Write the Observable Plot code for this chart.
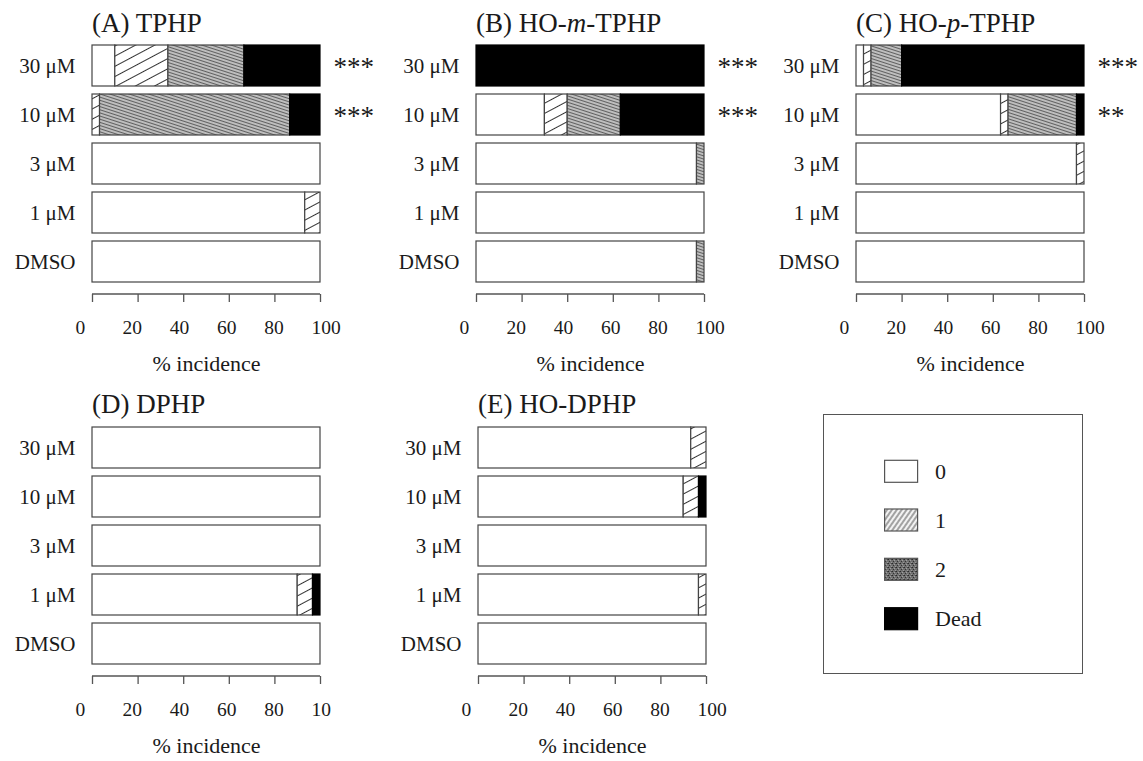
<!DOCTYPE html>
<html>
<head>
<meta charset="utf-8">
<script src="https://cdn.jsdelivr.net/npm/d3@7"></script>
<script src="https://cdn.jsdelivr.net/npm/@observablehq/plot@0.6"></script>
<style>
  body { margin: 0; background: #fff; }
  #root { position: relative; width: 1143px; height: 761px; font-family: "Liberation Serif", "Times New Roman", serif; color: #1a1a1a; }
  .panel { position: absolute; }
  .ptitle { position: absolute; font-size: 27px; line-height: 27px; white-space: nowrap; }
  #legend { position: absolute; left: 822.7px; top: 414px; width: 258px; height: 258px; border: 1.5px solid #555; }
</style>
</head>
<body>
<svg width="0" height="0" style="position:absolute">
  <defs>
    <pattern id="h1" patternUnits="userSpaceOnUse" width="9" height="9" patternTransform="rotate(-28)">
      <rect width="9" height="9" fill="white"/>
      <line x1="0" y1="4.5" x2="9" y2="4.5" stroke="#333" stroke-width="1"/>
    </pattern>
    <pattern id="h2" patternUnits="userSpaceOnUse" width="6" height="3" patternTransform="rotate(18)">
      <rect width="6" height="3" fill="#c8c8c8"/>
      <line x1="0" y1="1.5" x2="6" y2="1.5" stroke="#606060" stroke-width="1.2"/>
    </pattern>
    <pattern id="l1" patternUnits="userSpaceOnUse" width="4" height="4" patternTransform="rotate(-55)">
      <rect width="4" height="4" fill="#f2f2f2"/>
      <line x1="0" y1="2" x2="4" y2="2" stroke="#777" stroke-width="1.3"/>
    </pattern>
    <pattern id="l2" patternUnits="userSpaceOnUse" width="4" height="4">
      <rect width="4" height="4" fill="#707070"/>
      <rect x="0" y="0" width="1" height="1" fill="#2a2a2a"/>
      <rect x="2" y="1" width="1" height="1" fill="#a0a0a0"/>
      <rect x="1" y="2" width="1" height="1" fill="#333"/>
      <rect x="3" y="3" width="1" height="1" fill="#999"/>
      <rect x="3" y="0" width="1" height="1" fill="#444"/>
    </pattern>
  </defs>
</svg>
<div id="root"></div>
<script>
// ---------- data ----------
const doses = ["30 μM", "10 μM", "3 μM", "1 μM", "DMSO"];
const scores = ["0", "1", "2", "Dead"];
const scoreFills = ["white", "url(#h1)", "url(#h2)", "black"];
const legendFills = ["white", "url(#l1)", "url(#l2)", "black"];
const xTicks = [0, 20, 40, 60, 80, 100];
const xTickLabels = ["0", "20", "40", "60", "80", "100"];
const xTickLabelsD = ["0", "20", "40", "60", "80", "10"];

// % incidence per dose (rows: doses) for scores [0, 1, 2, Dead]
const tphp = [[10, 23.3, 33.3, 33.4], [0, 3.3, 83.4, 13.3], [100, 0, 0, 0], [93.3, 6.7, 0, 0], [100, 0, 0, 0]];
const tphpStars = ["***", "***", "", "", ""];
const hoMTphp = [[0, 0, 0, 100], [30, 10, 23.3, 36.7], [96.7, 0, 3.3, 0], [100, 0, 0, 0], [96.7, 0, 3.3, 0]];
const hoMTphpStars = ["***", "***", "", "", ""];
const hoPTphp = [[3.3, 3.3, 13.4, 80], [63.4, 3.3, 30, 3.3], [96.7, 3.3, 0, 0], [100, 0, 0, 0], [100, 0, 0, 0]];
const hoPTphpStars = ["***", "**", "", "", ""];
const dphp = [[100, 0, 0, 0], [100, 0, 0, 0], [100, 0, 0, 0], [90, 6.7, 0, 3.3], [100, 0, 0, 0]];
const dphpStars = ["", "", "", "", ""];
const hoDphp = [[93.3, 6.7, 0, 0], [90, 6.7, 0, 3.3], [100, 0, 0, 0], [96.7, 3.3, 0, 0], [100, 0, 0, 0]];
const hoDphpStars = ["", "", "", "", ""];

const panels = [
  {title: "(A) TPHP", values: tphp, stars: tphpStars, labels: xTickLabels, left: 0, top: 0},
  {title: "(B) HO-<i>m</i>-TPHP", values: hoMTphp, stars: hoMTphpStars, labels: xTickLabels, left: 384, top: 0},
  {title: "(C) HO-<i>p</i>-TPHP", values: hoPTphp, stars: hoPTphpStars, labels: xTickLabels, left: 764, top: 0},
  {title: "(D) DPHP", values: dphp, stars: dphpStars, labels: xTickLabelsD, left: 0, top: 381.6},
  {title: "(E) HO-DPHP", values: hoDphp, stars: hoDphpStars, labels: xTickLabels, left: 386, top: 381.6}
];

const root = document.getElementById("root");
const ink = "#1a1a1a";

function makePanel(p) {
  const rows = [];
  doses.forEach((d, i) => scores.forEach((s, j) => {
    const v = p.values[i][j];
    if (v > 0) rows.push({dose: d, score: s, value: v});
  }));
  const starRows = doses.map((d, i) => ({dose: d, star: p.stars[i]})).filter(r => r.star);
  const W = 378, H = 380, mB = 86;
  const chart = Plot.plot({
    width: W, height: H,
    marginLeft: 92, marginRight: 58, marginTop: 32.7, marginBottom: mB,
    style: {fontFamily: '"Liberation Serif", "Times New Roman", serif', color: ink, background: "transparent", overflow: "visible"},
    x: {domain: [0, 100], axis: null},
    y: {domain: doses, paddingInner: 0.17, paddingOuter: 0.2, axis: null, label: null},
    color: {domain: scores, range: scoreFills},
    marks: [
      Plot.barX(rows, {y: "dose", x: "value", fill: "score", stroke: d => d.score === "Dead" ? "#000" : "#444", strokeWidth: 1.2}),
      Plot.axisY({tickSize: 0, tickPadding: 17, fontSize: 21, label: null}),
      Plot.axisX({ticks: xTicks, tickSize: 8, tickFormat: () => "", label: null, stroke: "#555", strokeWidth: 1.3}),
      (index, scales, values, dims) => {
        const y = dims.height - dims.marginBottom;
        return d3.create("svg:line")
          .attr("x1", scales.x(0)).attr("x2", scales.x(100))
          .attr("y1", y).attr("y2", y)
          .attr("stroke", "#555").attr("stroke-width", 1.5).node();
      },
      Plot.text(xTicks, {x: v => -7.5 + v * 1.035, text: (v, i) => p.labels[i], frameAnchor: "bottom", textAnchor: "start", lineAnchor: "bottom", dy: 39.3, fontSize: 19.5}),
      Plot.text(["% incidence"], {frameAnchor: "bottom", lineAnchor: "bottom", dy: 76.5, fontSize: 22}),
      Plot.text(starRows, {y: "dose", text: "star", frameAnchor: "right", textAnchor: "start", dx: 13, dy: 1, fontSize: 27})
    ]
  });
  const wrap = document.createElement("div");
  wrap.className = "panel";
  wrap.style.left = p.left + "px";
  wrap.style.top = p.top + "px";
  wrap.appendChild(chart);
  root.appendChild(wrap);
  const t = document.createElement("div");
  t.className = "ptitle";
  t.style.left = (p.left + 92) + "px";
  t.style.top = (p.top + 9.5) + "px";
  t.innerHTML = p.title;
  root.appendChild(t);
}
panels.forEach(makePanel);

// ---------- legend ----------
const legend = document.createElement("div");
legend.id = "legend";
const ls = d3.create("svg").attr("width", 258).attr("height", 258);
const rowY = [56.3, 105, 154.3, 203.7];
scores.forEach((s, i) => {
  ls.append("rect").attr("x", 60.6).attr("y", rowY[i] - 11).attr("width", 33).attr("height", 22)
    .attr("fill", legendFills[i]).attr("stroke", s === "Dead" ? "#000" : "#555").attr("stroke-width", 1.2);
  ls.append("text").attr("x", 111).attr("y", rowY[i] + 7.5).attr("font-size", 22)
    .attr("font-family", '"Liberation Serif", "Times New Roman", serif').attr("fill", ink).text(s);
});
legend.appendChild(ls.node());
root.appendChild(legend);
</script>
</body>
</html>
